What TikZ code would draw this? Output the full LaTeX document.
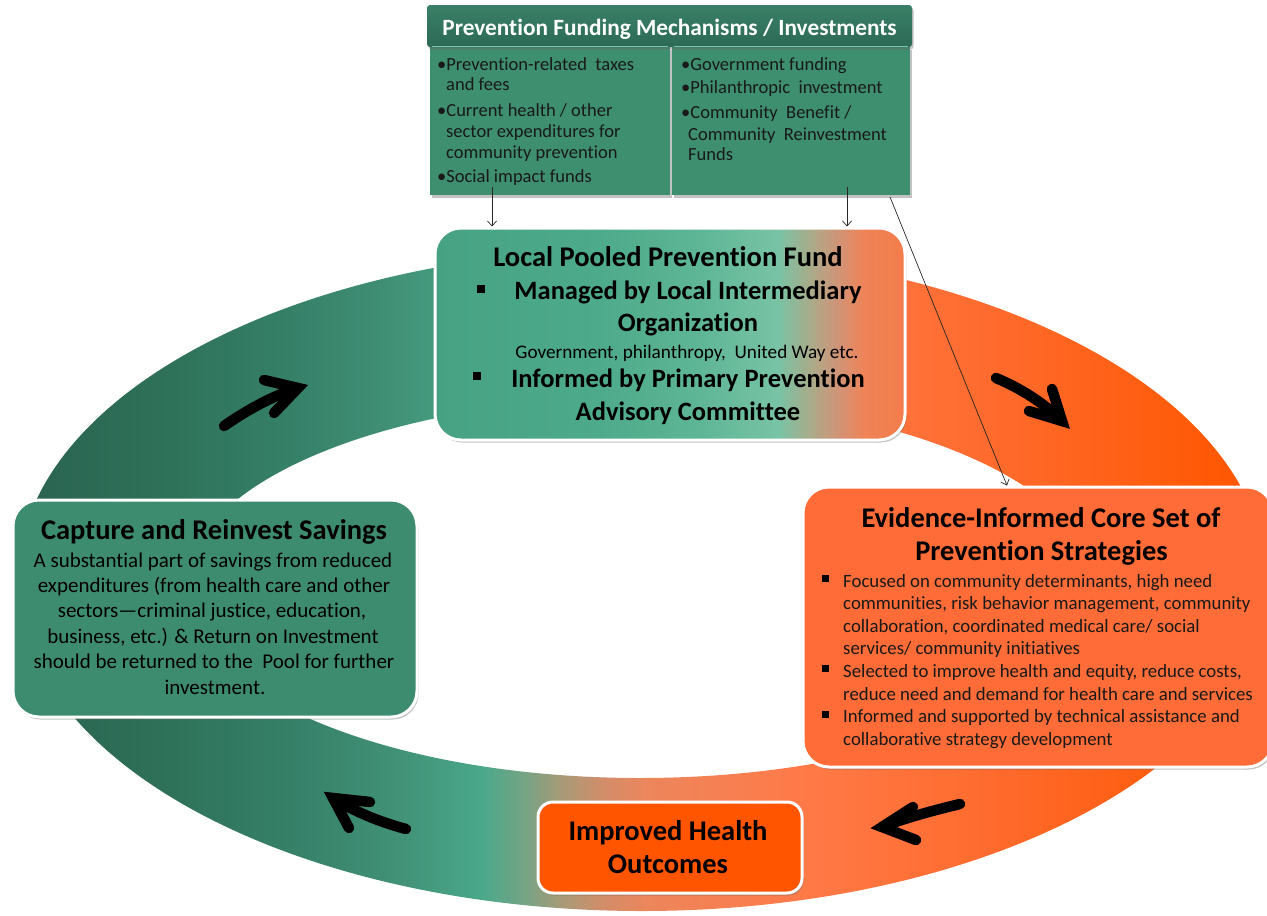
\documentclass[tikz,border=0pt]{standalone}
\usepackage{fontspec}
\setmainfont{Carlito}[Ligatures=NoCommon]
\usetikzlibrary{shadows,arrows.meta,calc}

\definecolor{rA}{HTML}{2A6350}
\definecolor{rB}{HTML}{2E7058}
\definecolor{rC}{HTML}{37826A}
\definecolor{rD}{HTML}{429378}
\definecolor{rE}{HTML}{4AA88A}
\definecolor{rF}{HTML}{72A484}
\definecolor{rG}{HTML}{A89A78}
\definecolor{rH}{HTML}{CF8E6A}
\definecolor{rI}{HTML}{EC865C}
\definecolor{rJ}{HTML}{FF7A48}
\definecolor{rK}{HTML}{FF6A2C}
\definecolor{rL}{HTML}{FF5A08}
\definecolor{rM}{HTML}{FF5500}

\definecolor{lA}{HTML}{46A282}
\definecolor{lB}{HTML}{4DAA8A}
\definecolor{lC}{HTML}{5EB696}
\definecolor{lD}{HTML}{78C3A5}
\definecolor{lE}{HTML}{A8AC8A}
\definecolor{lF}{HTML}{D09478}
\definecolor{lG}{HTML}{EE8458}
\definecolor{lH}{HTML}{F47C4A}

\definecolor{hdrgreen}{HTML}{2C6A55}
\definecolor{hdrtop}{HTML}{3A7F67}
\definecolor{colgreen}{HTML}{3E8E70}
\definecolor{hlgreen}{HTML}{74C9A8}
\definecolor{capgreen}{HTML}{3E8C6F}
\definecolor{evorange}{HTML}{FF6C37}
\definecolor{imporange}{HTML}{FF5500}

% ring: bbox x 10..1270 -> 25bp..75bp
\pgfdeclarehorizontalshading{ringshade}{100bp}{color(0bp)=(rA); color(25bp)=(rA); color(30.6bp)=(rB); color(36.5bp)=(rC); color(40.5bp)=(rD); color(43.6bp)=(rE); color(45.2bp)=(rF); color(46.8bp)=(rG); color(48.3bp)=(rH); color(50.2bp)=(rI); color(56.3bp)=(rJ); color(64.3bp)=(rK); color(72.2bp)=(rL); color(75bp)=(rM); color(100bp)=(rM)}
% local box: bbox x 435..905
\pgfdeclarehorizontalshading{localshade}{100bp}{color(0bp)=(lA); color(25bp)=(lA); color(42.5bp)=(lB); color(53.2bp)=(lC); color(61.5bp)=(lD); color(64.8bp)=(lE); color(67.8bp)=(lF); color(70.6bp)=(lG); color(75bp)=(lH); color(100bp)=(lH)}

\newcommand{\fttl}{\fontsize{28.5}{34}\selectfont\bfseries}
\newcommand{\fbul}{\fontsize{26.5}{32}\selectfont\bfseries}
\newcommand{\fhdr}{\fontsize{23.3}{27}\selectfont\bfseries}
\newcommand{\ftop}{\fontsize{18.5}{22}\selectfont}
\newcommand{\fgov}{\fontsize{19.2}{22}\selectfont}
\newcommand{\fcap}{\fontsize{21}{25}\selectfont}
\newcommand{\fevd}{\fontsize{18.8}{22}\selectfont}

\tikzset{
  tl/.style={inner sep=0pt, anchor=base, text=black},
  tlw/.style={inner sep=0pt, anchor=base west, text=black!90},
  boxsh/.style={drop shadow={shadow xshift=1.5pt, shadow yshift=-2.5pt, opacity=0.4, fill=black!60}},
  rbox/.style={rectangle, rounded corners=26pt, draw=white, line width=3pt, boxsh, inner sep=0pt},
  bigarr/.style={line width=10.5pt, line cap=round, line join=miter, draw=black},
  conn/.style={line width=0.7pt, draw=black!85, -{Straight Barb[length=5pt,width=9pt]}},
  colbox/.style={rectangle, fill=colgreen, boxsh, inner sep=0pt, minimum height=148pt},
}

\begin{document}
\begin{tikzpicture}[x=1pt,y=-1pt]
\useasboundingbox (0,0) rectangle (1267,916);

% ---- ring ----
\shade[shading=ringshade, even odd rule]
  (642,580) ellipse [x radius=624, y radius=331]
  (640,588) ellipse [x radius=455, y radius=190];

% ---- big cycle arrows ----
\draw[bigarr] (224,426) .. controls (250,408) and (275,395) .. (298,388);
\draw[bigarr] (264,380) -- (298,388) -- (274,413);

\draw[bigarr] (996,378) .. controls (1020,388) and (1044,403) .. (1062,421);
\draw[bigarr] (1052,389) -- (1062,421) -- (1029,411);

\draw[bigarr] (960,804) .. controls (935,810) and (905,818) .. (882,827);
\draw[bigarr] (913,807) -- (882,827) -- (916,840);

\draw[bigarr] (406,829) .. controls (380,822) and (355,812) .. (333,798);
\draw[bigarr] (370,802) -- (333,798) -- (349,828);

% ---- top box ----
\node[colbox, minimum width=240pt] (topL) at (550,121) {};
\node[colbox, minimum width=238pt] (topR) at (791,121) {};
\node[rectangle, top color=hdrtop, bottom color=hdrgreen, rounded corners=3pt,
      minimum width=485pt, minimum height=42pt, inner sep=0pt, boxsh] (tophead) at (669.5,26) {};
\draw[hlgreen, line width=1.2pt] ([xshift=2pt]topL.north west) -- ([xshift=-2pt]topL.north east);
\draw[hlgreen, line width=1.2pt] ([xshift=2pt]topR.north west) -- ([xshift=-2pt]topR.north east);
\node[tl, text=white] (hdrtxt) at (669.5,35) {\fhdr Prevention Funding Mechanisms / Investments};

\node[tlw] (tl1) at (437,70) {\ftop •Prevention-related\ \ taxes};
\node[tlw] (tl2) at (446,90) {\ftop and fees};
\node[tlw] (tl3) at (437,116) {\ftop •Current health / other};
\node[tlw] (tl4) at (446,137) {\ftop sector expenditures for};
\node[tlw] (tl5) at (446,158) {\ftop community prevention};
\node[tlw] (tl6) at (437,182) {\ftop •Social impact funds};

\node[tlw] (tr1) at (681,70) {\ftop •Government funding};
\node[tlw] (tr2) at (681,93) {\ftop •Philanthropic\ \ investment};
\node[tlw] (tr3) at (681,118) {\ftop •Community\ \ Benefit /};
\node[tlw] (tr4) at (688,140) {\ftop Community\ \ Reinvestment};
\node[tlw] (tr5) at (688,160) {\ftop Funds};

% ---- local pooled fund ----
\node[rbox, shade, shading=localshade, minimum width=470pt, minimum height=212pt] (local) at (670,334) {};
\node[tl] (lo1) at (668,266) {\fttl Local Pooled Prevention Fund};
\node[tl] (lo2) at (688,299) {\fbul Managed by Local Intermediary};
\node[tl] (lo3) at (688,331) {\fbul Organization};
\node[tl] (lo4) at (687,358) {\fgov Government, philanthropy,\ \ United Way etc.};
\node[tl] (lo5) at (688,387) {\fbul Informed by Primary Prevention};
\node[tl] (lo6) at (688,420) {\fbul Advisory Committee};
\fill (477,285) rectangle (485,293);
\fill (473,372) rectangle (481,380);

% ---- capture box ----
\node[rbox, fill=capgreen, minimum width=404pt, minimum height=217pt] (capture) at (215,608.5) {};
\node[tl] (ca0) at (214,539) {\fttl Capture and Reinvest Savings};
\node[tl] (ca1) at (213,567) {\fcap A substantial part of savings from reduced};
\node[tl] (ca2) at (214,592.4) {\fcap expenditures (from health care and other};
\node[tl] (ca3) at (212,617.8) {\fcap sectors—criminal justice, education,};
\node[tl] (ca4) at (213,643.2) {\fcap business, etc.) \& Return on Investment};
\node[tl] (ca5) at (214,668.6) {\fcap should be returned to the\ \ Pool for further};
\node[tl] (ca6) at (215,694) {\fcap investment.};

% ---- evidence box ----
\node[rbox, fill=evorange, minimum width=470pt, minimum height=280pt] (evid) at (1038,627) {};
\node[tl] (ev0) at (1041,527) {\fttl Evidence-Informed Core Set of};
\node[tl] (ev00) at (1041.5,560) {\fttl Prevention Strategies};
\node[tlw] (ev1) at (843,587) {\fevd Focused on community determinants, high need};
\node[tlw] (ev2) at (843,609.6) {\fevd communities, risk behavior management, community};
\node[tlw] (ev3) at (843,632.2) {\fevd collaboration, coordinated medical care/ social};
\node[tlw] (ev4) at (843,654.8) {\fevd services/ community initiatives};
\node[tlw] (ev5) at (843,677.4) {\fevd Selected to improve health and equity, reduce costs,};
\node[tlw] (ev6) at (843,700) {\fevd reduce need and demand for health care and services};
\node[tlw] (ev7) at (843,722.6) {\fevd Informed and supported by technical assistance and};
\node[tlw] (ev8) at (843,745.2) {\fevd collaborative strategy development};
\fill (822,575) rectangle (829,582);
\fill (822,665) rectangle (829,672);
\fill (822,711) rectangle (829,718);

% ---- improved outcomes ----
\node[rbox, rounded corners=15pt, fill=imporange, minimum width=264pt, minimum height=91pt] (improved) at (670,847.5) {};
\node[tl] (im1) at (668,840) {\fttl Improved Health};
\node[tl] (im2) at (668,873) {\fttl Outcomes};

% ---- thin connectors ----
\coordinate (s1) at (492,187);
\coordinate (s2) at (847,187);
\coordinate (s3) at (890,197);
\coordinate (e3) at (1007,0);
\draw[conn] (s1) -- (s1 |- local.north);
\draw[conn] (s2) -- (s2 |- local.north);
\draw[conn] (s3) -- (e3 |- evid.north);
\end{tikzpicture}
\end{document}
